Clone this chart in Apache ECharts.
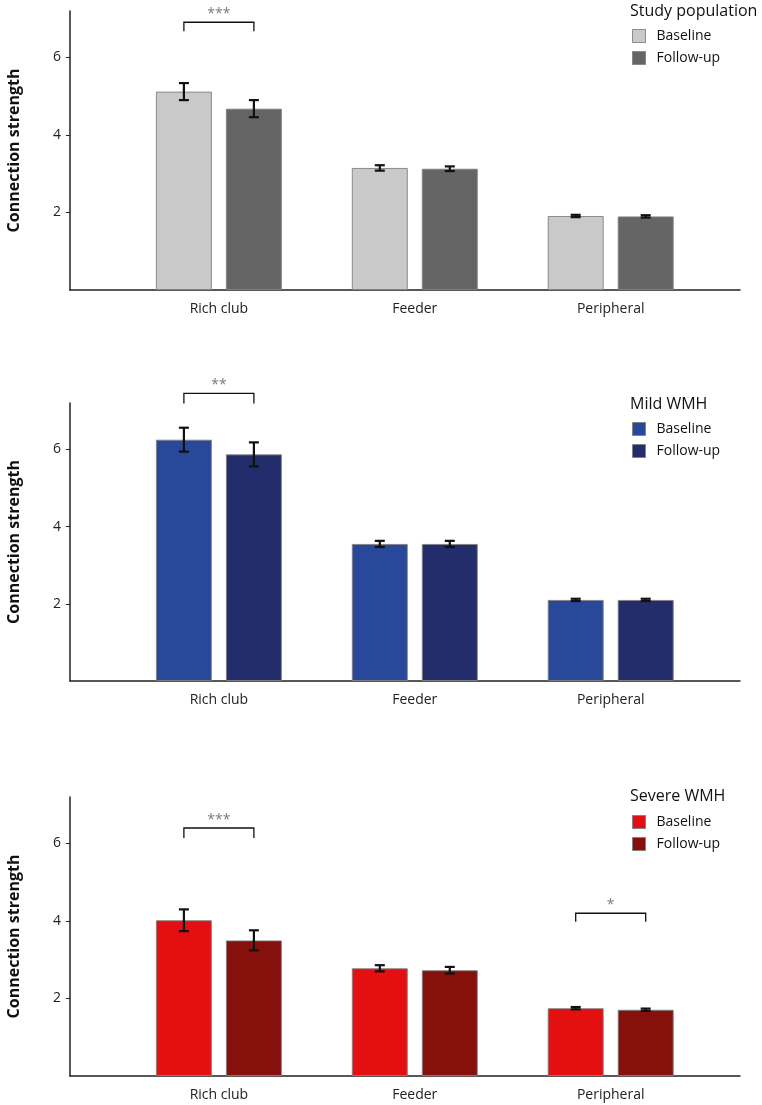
<!DOCTYPE html>
<html>
<head>
<meta charset="utf-8">
<script src="https://cdn.jsdelivr.net/npm/echarts@6/dist/echarts.min.js"></script>
<style>
html,body{margin:0;padding:0;background:#fff;}
#c{width:762px;height:1105px;}
</style>
</head>
<body>
<div id="c"></div>
<script>
// ---- data ----
const categories = ['Rich club', 'Feeder', 'Peripheral'];
const yTickLabels = [2, 4, 6];
const panelTitles = ['Study population', 'Mild WMH', 'Severe WMH'];
const seriesNames = ['Baseline', 'Follow-up'];

const studyBaseline = [5.12, 3.15, 1.91];
const studyBaselineErr = [0.22, 0.07, 0.03];
const studyFollowup = [4.68, 3.13, 1.90];
const studyFollowupErr = [0.22, 0.06, 0.03];

const mildBaseline = [6.25, 3.55, 2.10];
const mildBaselineErr = [0.31, 0.08, 0.03];
const mildFollowup = [5.87, 3.55, 2.10];
const mildFollowupErr = [0.31, 0.08, 0.03];

const severeBaseline = [4.02, 2.78, 1.75];
const severeBaselineErr = [0.28, 0.08, 0.03];
const severeFollowup = [3.50, 2.73, 1.71];
const severeFollowupErr = [0.26, 0.085, 0.03];

// significance brackets: category index, bracket level, leg end level, label
const studySigCat = [0];
const studySigTop = [6.91];
const studySigLeg = [6.68];
const studySigLabel = ['***'];

const mildSigCat = [0];
const mildSigTop = [7.45];
const mildSigLeg = [7.19];
const mildSigLabel = ['**'];

const severeSigCat = [0, 2];
const severeSigTop = [6.40, 4.20];
const severeSigLeg = [6.14, 3.98];
const severeSigLabel = ['***', '*'];

// ---- styles / layout ----
const colors = [
  ['#c9c9c9', '#646564'],
  ['#294899', '#232d6b'],
  ['#e30f10', '#86100b']
];
const gridTops = [11, 403, 797];
const gridHeights = [279, 278, 279];
const legendTops = [29, 422, 815];
const titleTops = [2, 395, 787];
const BAR_W = 56, GAP = 14, HALF = (BAR_W + GAP) / 2;
const FONT = '"Open Sans", "Noto Sans", sans-serif';

const panels = [
  {b: studyBaseline, be: studyBaselineErr, f: studyFollowup, fe: studyFollowupErr,
   sc: studySigCat, st: studySigTop, sl: studySigLeg, slab: studySigLabel},
  {b: mildBaseline, be: mildBaselineErr, f: mildFollowup, fe: mildFollowupErr,
   sc: mildSigCat, st: mildSigTop, sl: mildSigLeg, slab: mildSigLabel},
  {b: severeBaseline, be: severeBaselineErr, f: severeFollowup, fe: severeFollowupErr,
   sc: severeSigCat, st: severeSigTop, sl: severeSigLeg, slab: severeSigLabel}
];

const grid = [], xAxis = [], yAxis = [], series = [], legend = [], title = [];

panels.forEach((p, k) => {
  grid.push({left: 70, width: 670, top: gridTops[k], height: gridHeights[k],
             containLabel: false, outerBoundsMode: 'none'});
  xAxis.push({
    type: 'value', gridIndex: k, min: -0.76, max: 2.66,
    axisLine: {show: true, onZero: false, lineStyle: {color: '#222', width: 1.5}},
    axisTick: {show: false},
    splitLine: {show: false},
    axisLabel: {
      customValues: [0, 1, 2],
      formatter: v => categories[Math.round(v)],
      color: '#222', fontSize: 14, fontFamily: FONT, margin: 12
    }
  });
  yAxis.push({
    type: 'value', gridIndex: k, min: 0, max: 7.2,
    name: 'Connection strength', nameLocation: 'middle', nameGap: 48,
    nameTextStyle: {fontSize: 16, fontWeight: 'bold', color: '#111', fontFamily: FONT},
    axisLine: {show: true, onZero: false, lineStyle: {color: '#222', width: 1.5}},
    axisTick: {show: true, length: 4, customValues: yTickLabels, lineStyle: {color: '#222'}},
    splitLine: {show: false},
    axisLabel: {customValues: yTickLabels, color: '#222', fontSize: 14, fontFamily: FONT, margin: 9}
  });
  const names = seriesNames.map(n => n + '#' + k);
  [[p.b, p.be], [p.f, p.fe]].forEach((pair, s) => {
    series.push({
      type: 'bar', name: names[s], xAxisIndex: k, yAxisIndex: k,
      barWidth: BAR_W, barGap: (GAP / BAR_W * 100) + '%',
      itemStyle: {color: colors[k][s], borderColor: 'rgba(130,130,130,0.9)', borderWidth: 1},
      data: pair[0].map((v, i) => [i, v])
    });
  });
  // error bars
  const errData = [];
  [[p.b, p.be], [p.f, p.fe]].forEach((pair, s) => {
    pair[0].forEach((v, i) => errData.push([i, v, pair[1][i], s === 0 ? -1 : 1]));
  });
  series.push({
    type: 'custom', xAxisIndex: k, yAxisIndex: k, z: 5,
    data: errData,
    renderItem: (params, api) => {
      const x = api.value(0), m = api.value(1), e = api.value(2), side = api.value(3);
      const hi = api.coord([x, m + e]), lo = api.coord([x, m - e]);
      const cx = hi[0] + side * HALF;
      const st = {stroke: '#111', lineWidth: 2.2};
      return {type: 'group', children: [
        {type: 'line', shape: {x1: cx, y1: hi[1], x2: cx, y2: lo[1]}, style: st},
        {type: 'line', shape: {x1: cx - 5, y1: hi[1], x2: cx + 5, y2: hi[1]}, style: st},
        {type: 'line', shape: {x1: cx - 5, y1: lo[1], x2: cx + 5, y2: lo[1]}, style: st}
      ]};
    }
  });
  // significance brackets
  series.push({
    type: 'custom', xAxisIndex: k, yAxisIndex: k, z: 5, clip: false,
    data: p.sc.map((c, i) => [c, p.st[i], p.sl[i], i]),
    renderItem: (params, api) => {
      const c = api.value(0), top = api.value(1), leg = api.value(2), idx = api.value(3);
      const a = api.coord([c, top]), b = api.coord([c, leg]);
      const x1 = a[0] - HALF, x2 = a[0] + HALF;
      return {type: 'group', children: [
        {type: 'polyline', shape: {points: [[x1, b[1]], [x1, a[1]], [x2, a[1]], [x2, b[1]]]},
         style: {stroke: '#111', lineWidth: 1.3, fill: null}},
        {type: 'text', x: a[0], y: a[1] - 8,
         style: {text: p.slab[idx], fill: '#7a7a7a', font: '14px ' + FONT, align: 'center', verticalAlign: 'middle'}}
      ]};
    }
  });
  legend.push({
    orient: 'vertical', left: 632, top: legendTops[k],
    data: names, icon: 'rect', itemWidth: 13, itemHeight: 13, itemGap: 8,
    itemStyle: {borderColor: 'rgba(130,130,130,0.9)', borderWidth: 1},
    formatter: n => n.split('#')[0],
    textStyle: {fontSize: 14, color: '#111', fontFamily: FONT, padding: [0, 0, 0, 6]},
    padding: 0, selectedMode: false
  });
  title.push({
    text: panelTitles[k], left: 630, top: titleTops[k] + 1, padding: 0,
    textStyle: {fontSize: 16, fontWeight: 'normal', color: '#111', fontFamily: FONT}
  });
});

const chart = echarts.init(document.getElementById('c'), null, {renderer: 'canvas'});
chart.setOption({animation: false, grid, xAxis, yAxis, series, legend, title});
</script>
</body>
</html>
